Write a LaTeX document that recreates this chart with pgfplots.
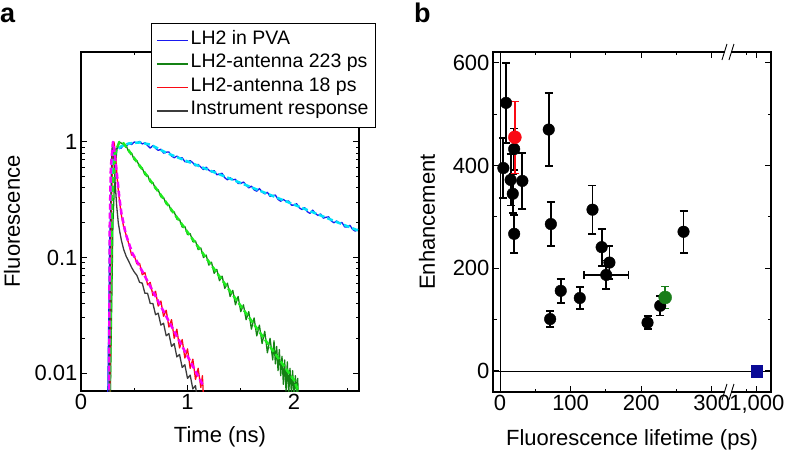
\documentclass[border=0pt]{standalone}
\usepackage{pgfplots}
\pgfplotsset{compat=1.18}
\usepackage{fontspec}
\setmainfont{Liberation Sans}
\definecolor{cblue}{RGB}{25,25,240}
\definecolor{ccyan}{RGB}{0,225,250}
\definecolor{cgreen}{RGB}{20,130,20}
\definecolor{clgreen}{RGB}{30,235,30}
\definecolor{cred}{RGB}{250,10,20}
\definecolor{cmag}{RGB}{250,0,250}
\definecolor{cgray}{RGB}{60,60,60}
\definecolor{cnavy}{RGB}{10,10,150}
\definecolor{cpgreen}{RGB}{25,125,25}
\pgfplotsset{
  common/.style={
    scale only axis,
    tick align=inside,
    major tick length=6pt, minor tick length=3.5pt,
    axis line style={line width=1.1pt},
    every tick/.style={line width=1pt, black},
    ticklabel style={font=\fontsize{22}{26}\selectfont},
    label style={font=\fontsize{22}{26}\selectfont},
    /pgf/number format/assume math mode=true,
  }
}
\begin{document}
\begin{tikzpicture}
\path[use as bounding box] (0pt,0pt) rectangle (788pt,453pt);
% ---------------- panel a ----------------
\begin{axis}[common,
  at={(81pt,62pt)}, anchor=south west,
  width=278pt, height=339pt,
  xmin=0, xmax=2.61, ymode=log, ymin=0.007, ymax=6,
  xtick={0,1,2}, xticklabels={0,1,2}, minor xtick={0.5,1.5,2.5},
  ytick={0.01,0.1,1}, yticklabels={0.01,0.1,1},
  xlabel={Time (ns)}, ylabel={Fluorescence},
  xlabel style={at={(axis description cs:0.5,-0.136)}, anchor=center},
  ylabel style={at={(axis description cs:-0.248,0.5)}, anchor=center},
  legend style={at={(1.061,1.0855)}, anchor=north east,
    font=\fontsize{19.5}{23}\selectfont, draw=black, line width=1pt, fill=white,
    inner xsep=5pt, inner ysep=5pt,
    nodes={inner ysep=0pt, text height=15.5pt, text depth=8pt}},
  legend cell align=left,
  legend image code/.code={\draw[#1] (0pt,0pt) -- (31pt,0pt);},
  every axis plot/.append style={line join=round},
]
\addlegendimage{draw=cblue, line width=1.5pt}
\addlegendentry{LH2 in PVA}
\addlegendimage{draw=cgreen, line width=1.5pt}
\addlegendentry{LH2-antenna 223 ps}
\addlegendimage{draw=cred, line width=1.5pt}
\addlegendentry{LH2-antenna 18 ps}
\addlegendimage{draw=cgray, line width=1.5pt}
\addlegendentry{Instrument response}
\addplot[forget plot, cblue, line width=1.3pt] coordinates {
(0.25,0.005) (0.27,0.15) (0.29,0.55) (0.31,0.82) (0.325,0.86) (0.35,0.90) (0.375,0.88)
(0.40,0.94) (0.425,0.92) (0.45,0.97) (0.475,0.95) (0.50,1.0) (0.525,0.98)
(0.550,1.01) (0.575,0.96) (0.600,0.985) (0.625,0.93) (0.650,0.885) (0.675,0.93)
(0.700,0.88) (0.725,0.845) (0.750,0.865) (0.775,0.80) (0.800,0.815) (0.825,0.82)
(0.850,0.755) (0.875,0.73) (0.900,0.755) (0.925,0.725) (0.950,0.73) (0.975,0.675)
(1.000,0.67) (1.025,0.69) (1.050,0.66) (1.075,0.62) (1.100,0.64) (1.125,0.605)
(1.150,0.575) (1.175,0.605) (1.200,0.57) (1.225,0.55) (1.250,0.565) (1.275,0.52)
(1.300,0.53) (1.325,0.535) (1.350,0.49) (1.375,0.47) (1.400,0.49) (1.425,0.47)
(1.450,0.475) (1.475,0.437) (1.500,0.437) (1.525,0.45) (1.550,0.425) (1.575,0.40)
(1.600,0.415) (1.625,0.385) (1.650,0.375) (1.675,0.395) (1.700,0.37) (1.725,0.355)
(1.750,0.367) (1.775,0.338) (1.800,0.344) (1.825,0.347) (1.850,0.318) (1.875,0.307)
(1.900,0.318) (1.925,0.306) (1.950,0.308) (1.975,0.284) (2.000,0.284) (2.025,0.292)
(2.050,0.269) (2.075,0.26) (2.100,0.27) (2.125,0.249) (2.150,0.241) (2.175,0.257)
(2.200,0.241) (2.225,0.231) (2.250,0.238) (2.275,0.219) (2.300,0.223) (2.325,0.225)
(2.350,0.207) (2.375,0.20) (2.400,0.207) (2.425,0.199) (2.450,0.201) (2.475,0.184)
(2.500,0.184) (2.525,0.19) (2.550,0.175) (2.575,0.169) (2.600,0.176)
};
\addplot[forget plot, cgreen, line width=1.3pt] coordinates {
(0.275,0.006) (0.30,0.2) (0.32,0.6) (0.34,0.9) (0.36,1.0)
(0.375,0.98) (0.400,0.95) (0.425,0.92) (0.450,0.82) (0.475,0.80) (0.500,0.70)
(0.525,0.69) (0.550,0.61) (0.575,0.595) (0.600,0.52) (0.625,0.515) (0.650,0.45)
(0.675,0.445) (0.700,0.39) (0.725,0.385) (0.750,0.335) (0.775,0.33) (0.800,0.29)
(0.825,0.285) (0.850,0.25) (0.875,0.248) (0.900,0.215) (0.925,0.214) (0.950,0.183)
(0.975,0.186) (1.000,0.158) (1.025,0.161) (1.050,0.137) (1.075,0.139) (1.100,0.117)
(1.125,0.121) (1.150,0.100) (1.175,0.105) (1.200,0.086) (1.225,0.091) (1.250,0.073)
(1.275,0.079) (1.300,0.063) (1.325,0.069) (1.350,0.054) (1.375,0.060) (1.400,0.046)
(1.425,0.052) (1.450,0.039) (1.475,0.046) (1.500,0.034) (1.525,0.039) (1.550,0.029)
(1.575,0.034) (1.600,0.024) (1.625,0.030) (1.650,0.021) (1.675,0.026) (1.700,0.018)
(1.725,0.023) (1.750,0.015) (1.775,0.020) (1.800,0.013) (1.812,0.019) (1.825,0.012)
(1.837,0.017) (1.850,0.0105) (1.862,0.016) (1.875,0.0095) (1.887,0.014) (1.900,0.008)
(1.912,0.013) (1.925,0.007) (1.937,0.0125) (1.950,0.0065) (1.962,0.011) (1.975,0.0068)
(1.987,0.0105) (2.000,0.006) (2.012,0.0095) (2.025,0.0068) (2.035,0.009) (2.04,0.005)
};
\addplot[forget plot, cred, line width=1.3pt] coordinates {
(0.270,0.006) (0.285,0.3) (0.300,0.85) (0.310,1.0) (0.320,0.85) (0.330,0.65)
(0.340,0.48) (0.350,0.38) (0.365,0.29) (0.380,0.23) (0.400,0.185) (0.425,0.155)
(0.450,0.13) (0.475,0.105) (0.500,0.104) (0.525,0.088) (0.550,0.089) (0.575,0.071)
(0.600,0.074) (0.625,0.058) (0.650,0.061) (0.675,0.047) (0.700,0.051) (0.725,0.038)
(0.750,0.042) (0.775,0.031) (0.800,0.035) (0.825,0.025) (0.850,0.029) (0.875,0.020)
(0.900,0.024) (0.925,0.0165) (0.950,0.0195) (0.975,0.0135) (1.000,0.0162) (1.025,0.011)
(1.050,0.0132) (1.075,0.0088) (1.100,0.011) (1.125,0.0075) (1.140,0.0095) (1.150,0.006)
};
\addplot[forget plot, cgray, line width=1.3pt] coordinates {
(0.265,0.006) (0.280,0.3) (0.290,0.85) (0.300,1.0) (0.310,0.7) (0.320,0.45)
(0.335,0.28) (0.350,0.20) (0.365,0.165) (0.380,0.14) (0.400,0.118) (0.425,0.102)
(0.450,0.092) (0.475,0.082) (0.500,0.075) (0.525,0.070) (0.550,0.061) (0.575,0.060)
(0.600,0.049) (0.625,0.049) (0.650,0.040) (0.675,0.040) (0.700,0.032) (0.725,0.033)
(0.750,0.026) (0.775,0.027) (0.800,0.021) (0.825,0.022) (0.850,0.017) (0.875,0.018)
(0.900,0.0138) (0.925,0.0145) (0.950,0.0112) (0.975,0.0118) (1.000,0.0090)
(1.025,0.0096) (1.050,0.0073) (1.075,0.0078) (1.09,0.006)
};
% fits
\addplot[forget plot, ccyan, line width=2.5pt, dash pattern=on 6pt off 3pt] coordinates {
(0.262,0.006) (0.27,0.1) (0.28,0.4) (0.30,0.72) (0.33,0.84) (0.38,0.92) (0.45,0.97)
(0.55,0.99) (0.65,0.95) (0.8,0.806) (1.2,0.571) (1.6,0.405) (2.0,0.287) (2.4,0.203) (2.61,0.17)
};
\addplot[forget plot, clgreen, line width=2.5pt, dash pattern=on 6pt off 3pt] coordinates {
(0.27,0.006) (0.29,0.3) (0.32,0.8) (0.36,1.0) (0.40,0.971) (0.6,0.539) (1.0,0.166)
(1.5,0.0381) (1.95,0.0101) (2.0,0.0087) (2.04,0.007)
};
\addplot[forget plot, cmag, line width=2.5pt, dash pattern=on 6pt off 3pt] coordinates {
(0.263,0.006) (0.27,0.2) (0.28,0.6) (0.30,1.0) (0.32,0.75) (0.34,0.5) (0.36,0.33)
(0.38,0.24) (0.42,0.16) (0.48,0.11) (0.55,0.084) (0.8,0.031) (1.0,0.014) (1.15,0.0077)
};
\end{axis}
% ---------------- panel b ----------------
\begin{axis}[common,
  at={(493pt,61pt)}, anchor=south west,
  width=278pt, height=340pt,
  xmin=-10, xmax=384, ymin=-41, ymax=621,
  xtick={0,100,200,300,364}, xticklabels={0,100,200,300,{1,000}},
  minor xtick={50,150,250,349},
  ytick={0,200,400,600}, yticklabels={0,200,400,600},
  minor ytick={100,300,500},
  xlabel={Fluorescence lifetime (ps)}, ylabel={Enhancement},
  xlabel style={at={(axis description cs:0.5,-0.141)}, anchor=center},
  ylabel style={at={(axis description cs:-0.237,0.5)}, anchor=center},
]
\draw[line width=0.6pt] (axis cs:0,-41) -- (axis cs:0,621);
\draw[line width=0.6pt] (axis cs:-10,0) -- (axis cs:384,0);
\addplot[only marks, mark=*, mark size=5.8pt, black,
  error bars/.cd, y dir=both, y explicit, x dir=both, x explicit,
  error bar style={line width=1.8pt, black},
  error mark options={rotate=90, line width=1.8pt, mark size=4pt, black}]
  table[x=x, y=y, x error=ex, y error=ey] {
x y ex ey
4.7 395 0 58
8.5 522 0 78
15 372 0 50
18 345 0 38
20 432 0 40
31.6 370 0 54
20 267 0 37
69 470 0 71
72 286 0 43
131 314 0 47
144 241 0 36
155 211 0 32
150.5 187 31.5 28
86 156 0 23
113 142 0 21
71 101 0 15
209 94 0 13
227 127 0 19
260 271 0 41
};
\addplot[only marks, mark=*, mark size=6.5pt, cred,
  error bars/.cd, y dir=both, y explicit,
  error bar style={line width=1.4pt, cred},
  error mark options={rotate=90, line width=1.4pt, mark size=4pt, cred}]
  table[x=x, y=y, y error=ey] {
x y ey
21 455 70
};
\addplot[only marks, mark=*, mark size=6.5pt, cpgreen,
  error bars/.cd, y dir=both, y explicit,
  error bar style={line width=1.4pt, cpgreen},
  error mark options={rotate=90, line width=1.4pt, mark size=4pt, cpgreen}]
  table[x=x, y=y, y error=ey] {
x y ey
234 143 21
};
\addplot[only marks, mark=square*, mark size=5.8pt, cnavy] coordinates {(364,0)};
\coordinate (bb) at (axis cs:323,-41);
\coordinate (bt) at (axis cs:323,621);
\end{axis}
\foreach \c in {bb,bt}{
  \begin{scope}[shift={(\c)}]
    \fill[white] (-3.2pt,-2pt) rectangle (3.2pt,2pt);
    \draw[line width=0.9pt] (-6pt,-8pt) -- (-1pt,8pt) (1pt,-8pt) -- (6pt,8pt);
  \end{scope}
}
\node[anchor=base west, inner sep=0pt, font=\bfseries\fontsize{27}{30}\selectfont] at (0pt,430pt) {a};
\node[anchor=base west, inner sep=0pt, font=\bfseries\fontsize{27}{30}\selectfont] at (414pt,430pt) {b};
\end{tikzpicture}
\end{document}
